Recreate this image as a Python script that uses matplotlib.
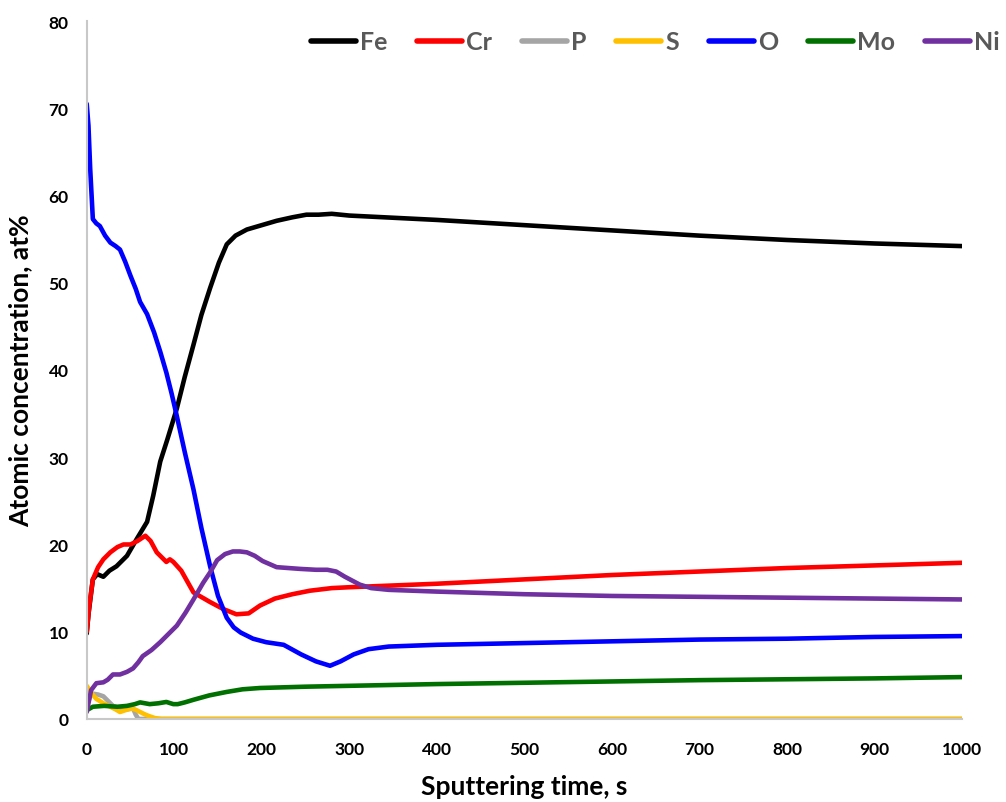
import matplotlib
matplotlib.use("Agg")
import matplotlib.pyplot as plt

# sputtering time, s / concentration, at%
fe_t = [0, 2, 7, 12, 19, 26, 34, 46, 57, 69, 76, 84, 92, 103, 112, 122, 131, 141, 151, 160, 170, 183, 200, 217, 235, 251, 265, 280, 300, 400, 500, 600, 700, 800, 900, 1000]
fe_c = [9.8, 12, 16, 16.6, 16.3, 17.0, 17.5, 18.7, 20.6, 22.6, 25.6, 29.5, 32, 35.6, 39.2, 42.9, 46.3, 49.4, 52.3, 54.4, 55.4, 56.1, 56.6, 57.1, 57.5, 57.8, 57.8, 57.9, 57.7, 57.2, 56.6, 56.0, 55.4, 54.9, 54.5, 54.2]

cr_t = [0, 3, 7, 13, 19, 27, 35, 42, 50, 58, 67, 73, 80, 91, 95, 99, 108, 122, 141, 156, 171, 185, 198, 215, 235, 255, 280, 300, 400, 500, 600, 700, 800, 900, 1000]
cr_c = [10, 13, 16, 17.4, 18.3, 19.1, 19.7, 20.0, 20.0, 20.4, 21.0, 20.4, 19.1, 18.0, 18.3, 18.0, 17.0, 14.5, 13.4, 12.6, 12.0, 12.1, 13.0, 13.8, 14.3, 14.7, 15.0, 15.1, 15.5, 16.0, 16.5, 16.9, 17.3, 17.6, 17.9]

p_t = [0, 4, 7, 13, 19, 24, 30, 38, 46, 53, 56, 59, 70, 1000]
p_c = [1.5, 2.6, 2.9, 2.8, 2.6, 2.1, 1.5, 1.2, 1.1, 1.2, 0.5, 0.0, 0.0, 0.0]

s_t = [0, 5, 11, 19, 27, 33, 38, 44, 50, 55, 61, 67, 72, 78, 85, 1000]
s_c = [3.8, 3.0, 2.3, 1.8, 1.4, 1.1, 0.8, 1.0, 1.2, 1.1, 0.8, 0.5, 0.3, 0.1, 0.0, 0.0]

o_t = [0, 2, 4, 7, 11, 15, 21, 27, 33, 38, 44, 50, 56, 61, 69, 77, 84, 91, 97, 103, 112, 122, 131, 141, 150, 160, 168, 176, 190, 205, 225, 245, 262, 278, 290, 305, 322, 345, 400, 500, 600, 700, 800, 900, 1000]
o_c = [70.5, 68, 63, 57.3, 56.8, 56.5, 55.4, 54.6, 54.2, 53.8, 52.4, 50.8, 49.3, 47.8, 46.4, 44.3, 42.1, 39.7, 37.3, 34.7, 30.6, 26.3, 21.9, 17.5, 14.1, 11.6, 10.5, 9.9, 9.2, 8.8, 8.5, 7.4, 6.6, 6.1, 6.6, 7.4, 8.0, 8.3, 8.5, 8.7, 8.9, 9.1, 9.2, 9.4, 9.5]

mo_t = [0, 7, 20, 35, 46, 55, 61, 72, 82, 91, 99, 104, 112, 122, 140, 160, 178, 198, 250, 300, 400, 500, 600, 700, 800, 900, 1000]
mo_c = [1.0, 1.4, 1.5, 1.4, 1.5, 1.7, 1.9, 1.7, 1.8, 1.95, 1.7, 1.7, 1.9, 2.2, 2.7, 3.1, 3.4, 3.55, 3.7, 3.8, 4.0, 4.15, 4.3, 4.45, 4.55, 4.65, 4.8]

ni_t = [0, 5, 11, 19, 24, 30, 38, 46, 53, 59, 64, 74, 84, 93, 103, 113, 122, 133, 141, 149, 158, 167, 175, 183, 192, 201, 217, 244, 262, 275, 285, 295, 312, 325, 345, 400, 500, 600, 700, 800, 900, 1000]
ni_c = [0.8, 3.3, 4.1, 4.2, 4.5, 5.1, 5.1, 5.4, 5.8, 6.5, 7.2, 7.9, 8.8, 9.7, 10.7, 12.2, 13.7, 15.6, 16.8, 18.2, 18.9, 19.2, 19.2, 19.1, 18.7, 18.1, 17.4, 17.2, 17.1, 17.1, 16.9, 16.3, 15.4, 15.0, 14.8, 14.6, 14.3, 14.1, 14.0, 13.9, 13.8, 13.7]

series = [
    ("Fe", fe_t, fe_c, "#000000"),
    ("Cr", cr_t, cr_c, "#FF0000"),
    ("P", p_t, p_c, "#A5A5A5"),
    ("S", s_t, s_c, "#FFC000"),
    ("O", o_t, o_c, "#0000FF"),
    ("Mo", mo_t, mo_c, "#007000"),
    ("Ni", ni_t, ni_c, "#7030A0"),
]

plt.rcParams['font.family'] = ['Lato', 'DejaVu Sans']
plt.rcParams['font.weight'] = 'bold'

fig = plt.figure(figsize=(10.06, 8.03), dpi=100)
ax = fig.add_axes([0.0862, 0.1034, 0.8700, 0.8692])

for name, t, c, col in series:
    ax.plot(t, c, color=col, lw=3.3, label=name, solid_capstyle='round', solid_joinstyle='round')

ax.set_xlim(0, 1000)
ax.set_ylim(0, 80)
ax.set_xticks(range(0, 1001, 100))
ax.set_yticks(range(0, 81, 10))
ax.tick_params(axis='x', length=0, labelsize=12.5, pad=16)
ax.tick_params(axis='y', length=0, labelsize=12.5, pad=13)
for lab in ax.get_xticklabels() + ax.get_yticklabels():
    lab.set_fontweight('bold')
for side in ['top', 'right']:
    ax.spines[side].set_visible(False)
for side in ['left', 'bottom']:
    ax.spines[side].set_color('#C8C8C8')
    ax.spines[side].set_linewidth(1.5)

ax.set_xlabel("Sputtering time, s", fontsize=19, fontweight='bold', labelpad=12)
ax.set_ylabel("Atomic concentration, at%", fontsize=19, fontweight='bold', labelpad=12)

leg = fig.legend(handles=ax.get_lines(), ncol=7, loc='center right',
                 bbox_to_anchor=(1000 / 1006, 1 - 43 / 803), frameon=False,
                 borderpad=0, borderaxespad=0,
                 handlelength=1.8, handletextpad=0.16, columnspacing=1.2,
                 prop={'size': 18, 'weight': 'bold'})
for txt in leg.get_texts():
    txt.set_color('#595959')
for h in leg.get_lines():
    h.set_linewidth(4)

fig.savefig("out.png", dpi=100)
